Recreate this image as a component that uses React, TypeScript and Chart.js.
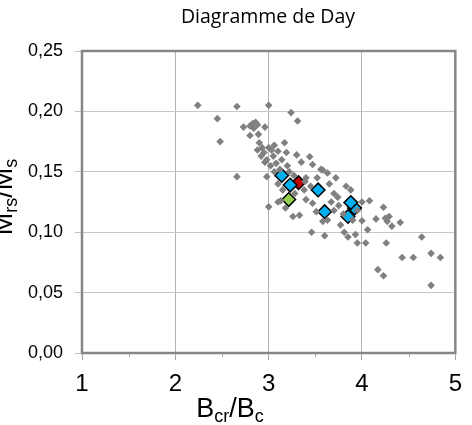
import { useEffect, useRef } from 'react';
import { Chart, registerables } from 'chart.js';

Chart.register(...registerables);

const TITLE = 'Diagramme de Day';
const xTickValues = [1, 2, 3, 4, 5];
const xMinorTicks = [1.5, 2.5, 3.5, 4.5];
const yTickValues = [0, 0.05, 0.1, 0.15, 0.2, 0.25];

// background cloud (grey diamonds)
const greyX = [
  2.24, 2.66, 3.0, 3.24, 2.45, 3.31, 2.73, 2.8, 2.83, 2.86, 2.88, 2.84, 2.96, 2.8, 2.89, 2.48, 2.66,
  2.9, 2.93, 2.88, 2.95, 3.0, 3.03, 3.06, 3.1, 2.92, 2.98, 3.05, 3.17, 3.19, 3.3, 3.44, 2.96, 3.02,
  3.08, 3.12, 3.06, 2.98, 3.0, 3.1, 3.26, 3.33, 3.14, 3.2, 3.22, 3.27, 3.35, 3.4, 3.39, 3.47, 3.56,
  3.63, 3.58, 3.1, 3.15, 3.28, 3.4, 3.47, 3.51, 3.13, 3.18, 3.38, 3.45, 3.52, 3.83, 3.88, 3.7, 3.74,
  3.67, 4.0, 4.08, 4.23, 4.15, 4.25, 4.29, 4.27, 4.32, 4.41, 4.0, 4.06, 3.77, 3.58, 3.63, 3.81, 3.85,
  3.93, 3.95, 4.04, 3.46, 3.6, 4.26, 4.64, 4.43, 4.55, 4.74, 4.84, 4.17, 4.23, 4.74, 3.7, 3.75, 3.8,
  3.9, 3.95, 3.65, 3.72,
];
const greyY = [
  0.205, 0.204, 0.205, 0.199, 0.194, 0.192, 0.187, 0.188, 0.19, 0.191, 0.189, 0.186, 0.187, 0.18,
  0.181, 0.175, 0.146, 0.174, 0.17, 0.168, 0.166, 0.17, 0.168, 0.172, 0.167, 0.163, 0.16, 0.163,
  0.174, 0.166, 0.164, 0.1625, 0.158, 0.155, 0.157, 0.152, 0.15, 0.146, 0.121, 0.125, 0.113, 0.114,
  0.16, 0.155, 0.15, 0.147, 0.158, 0.145, 0.142, 0.156, 0.152, 0.149, 0.1515, 0.14, 0.135, 0.132,
  0.127, 0.124, 0.117, 0.126, 0.12, 0.135, 0.138, 0.145, 0.138, 0.135, 0.132, 0.129, 0.125, 0.125,
  0.126, 0.1206, 0.111, 0.1115, 0.113, 0.109, 0.105, 0.108, 0.1095, 0.102, 0.106, 0.109, 0.11, 0.1,
  0.096, 0.098, 0.091, 0.091, 0.1, 0.097, 0.091, 0.096, 0.079, 0.079, 0.0825, 0.079, 0.069, 0.064,
  0.056, 0.118, 0.122, 0.115, 0.11, 0.118, 0.14, 0.145,
];

const blueX = [3.14, 3.23, 3.53, 3.6, 3.92, 3.88, 3.85];
const blueY = [0.147, 0.139, 0.135, 0.117, 0.12, 0.1245, 0.113];
const redX = [3.32];
const redY = [0.141];
const greenX = [3.215];
const greenY = [0.127];

const toPoints = (xs: number[], ys: number[]) => xs.map((x, i) => ({ x, y: ys[i] }));

const AXIS_FONT = "'Liberation Sans', Arial, sans-serif";

function drawSubText(
  ctx: CanvasRenderingContext2D,
  parts: { t: string; sub: boolean }[],
  mainSize: number,
  subSize: number,
  subShift: number,
) {
  const widths = parts.map((p) => {
    ctx.font = `${p.sub ? subSize : mainSize}px ${AXIS_FONT}`;
    return ctx.measureText(p.t).width;
  });
  const total = widths.reduce((a, b) => a + b, 0);
  let x = -total / 2;
  parts.forEach((p, i) => {
    ctx.font = `${p.sub ? subSize : mainSize}px ${AXIS_FONT}`;
    ctx.fillText(p.t, x, p.sub ? subShift : 0);
    x += widths[i];
  });
}

const decorPlugin = {
  id: 'decor',
  beforeDatasetsDraw(chart: any) {
    const { ctx, chartArea } = chart;
    const { left, right, top, bottom } = chartArea;
    ctx.save();
    // minor x ticks
    ctx.strokeStyle = '#a6a6a6';
    ctx.lineWidth = 1;
    const xs = chart.scales.x;
    xMinorTicks.forEach((v) => {
      const px = Math.round(xs.getPixelForValue(v)) + 0.5;
      ctx.beginPath();
      ctx.moveTo(px, bottom);
      ctx.lineTo(px, bottom + 4);
      ctx.stroke();
    });
    // frame
    ctx.strokeStyle = '#868686';
    ctx.lineWidth = 2.5;
    ctx.strokeRect(left, top, right - left, bottom - top);
    ctx.restore();
  },
  afterDraw(chart: any) {
    const { ctx } = chart;
    ctx.save();
    ctx.fillStyle = '#000';
    // title
    ctx.font = "19.5px 'Open Sans', sans-serif";
    ctx.textAlign = 'center';
    ctx.textBaseline = 'middle';
    ctx.fillText(TITLE, 268, 17);
    // x axis title
    ctx.textAlign = 'left';
    ctx.textBaseline = 'alphabetic';
    ctx.save();
    ctx.translate(230, 417);
    drawSubText(
      ctx,
      [
        { t: 'B', sub: false },
        { t: 'cr', sub: true },
        { t: '/B', sub: false },
        { t: 'c', sub: true },
      ],
      27,
      18,
      5,
    );
    ctx.restore();
    // y axis title
    ctx.save();
    ctx.translate(12, 197);
    ctx.rotate(-Math.PI / 2);
    drawSubText(
      ctx,
      [
        { t: 'M', sub: false },
        { t: 'rs', sub: true },
        { t: '/M', sub: false },
        { t: 's', sub: true },
      ],
      27,
      18,
      5,
    );
    ctx.restore();
    ctx.restore();
  },
};

export default function App() {
  const ref = useRef<HTMLCanvasElement>(null);
  useEffect(() => {
    document.body.style.margin = '0';
    const chart = new Chart(ref.current as HTMLCanvasElement, {
      type: 'scatter',
      data: {
        datasets: [
          {
            label: 'cloud',
            data: toPoints(greyX, greyY),
            pointStyle: 'rectRot',
            pointRadius: 3.8,
            pointBorderWidth: 0,
            backgroundColor: '#808080',
            borderColor: '#808080',
          },
          {
            label: 'blue',
            data: toPoints(blueX, blueY),
            pointStyle: 'rectRot',
            pointRadius: 6.8,
            pointBorderWidth: 1.5,
            backgroundColor: '#00b0f0',
            borderColor: '#000',
          },
          {
            label: 'red',
            data: toPoints(redX, redY),
            pointStyle: 'rectRot',
            pointRadius: 6.8,
            pointBorderWidth: 1.5,
            backgroundColor: '#c00000',
            borderColor: '#000',
          },
          {
            label: 'green',
            data: toPoints(greenX, greenY),
            pointStyle: 'rectRot',
            pointRadius: 6.8,
            pointBorderWidth: 1.5,
            backgroundColor: '#92d050',
            borderColor: '#000',
          },
        ],
      },
      options: {
        responsive: false,
        animation: false,
        devicePixelRatio: 1,
        layout: { padding: { top: 51, right: 13, left: 0, bottom: 0 } },
        plugins: {
          legend: { display: false },
          tooltip: { enabled: false },
          title: { display: false },
        },
        scales: {
          x: {
            type: 'linear',
            min: 1,
            max: 5,
            afterBuildTicks: (scale: any) => {
              scale.ticks = xTickValues.map((v) => ({ value: v }));
            },
            afterFit: (scale: any) => {
              scale.height = 72;
            },
            ticks: {
              font: { family: AXIS_FONT, size: 24 },
              color: '#000',
              padding: 10,
              maxRotation: 0,
              callback: (v: any) => String(v),
            },
            grid: {
              color: '#b3b3b3',
              lineWidth: 1,
              tickLength: 7,
              tickColor: '#a6a6a6',
            },
            border: { display: false },
          },
          y: {
            type: 'linear',
            min: 0,
            max: 0.25,
            afterBuildTicks: (scale: any) => {
              scale.ticks = yTickValues.map((v) => ({ value: v }));
            },
            afterFit: (scale: any) => {
              scale.width = 82;
            },
            ticks: {
              font: { family: AXIS_FONT, size: 18 },
              color: '#000',
              padding: 12,
              callback: (v: any) => Number(v).toFixed(2).replace('.', ','),
            },
            grid: {
              color: '#c6c6c6',
              lineWidth: 1,
              tickLength: 7,
              tickColor: '#c0c0c0',
            },
            border: { display: false },
          },
        },
      },
      plugins: [decorPlugin],
    } as any);
    return () => chart.destroy();
  }, []);
  return (
    <div style={{ position: 'fixed', left: 0, top: 0, width: 472, height: 425, background: '#fff' }}>
      <canvas ref={ref} width={472} height={425} style={{ width: 472, height: 425, display: 'block' }} />
    </div>
  );
}
